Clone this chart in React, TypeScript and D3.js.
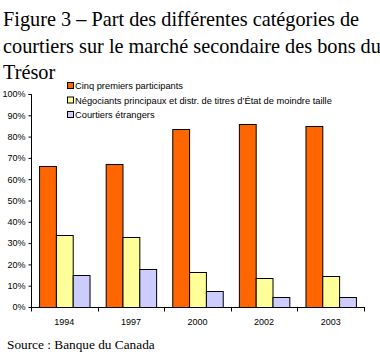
import React, { useEffect, useRef } from 'react'
import * as d3 from 'd3'

const years = ['1994', '1997', '2000', '2002', '2003']
const seriesNames = [
  'Cinq premiers participants',
  'Négociants principaux et distr. de titres d’État de moindre taille',
  'Courtiers étrangers',
]
const cinqPremiers = [66, 67, 83.5, 86, 85]
const negociants = [34, 33, 16.5, 13.5, 14.5]
const etrangers = [15, 18, 7.5, 4.5, 4.5]
const seriesColors = ['#ff6600', '#ffff99', '#ccccff']
const yTicks = [0, 10, 20, 30, 40, 50, 60, 70, 80, 90, 100]
const titleLines = [
  'Figure 3 – Part des différentes catégories de',
  'courtiers sur le marché secondaire des bons du',
  'Trésor',
]

export default function App() {
  const svgRef = useRef<SVGSVGElement>(null)

  useEffect(() => {
    if (!svgRef.current) return
    const svg = d3.select(svgRef.current)
    svg.selectAll('*').remove()

    const serif = '"Liberation Serif", "Times New Roman", serif'
    const sans = '"Liberation Sans", Arial, sans-serif'

    // title
    svg
      .append('g')
      .selectAll('text')
      .data(titleLines)
      .join('text')
      .attr('x', 3)
      .attr('y', (d, i) => 26 + i * 26.5)
      .style('font-family', serif)
      .style('font-size', '20.3px')
      .style('fill', '#000')
      .text((d) => d)

    const left = 31
    const right = 364
    const top = 94
    const bottom = 307

    const x = d3.scaleBand().domain(years).range([left, right]).paddingInner(0).paddingOuter(0)
    const inner = d3
      .scaleBand()
      .domain(['0', '1', '2'])
      .range([0, x.bandwidth()])
      .paddingOuter(0.48)
      .paddingInner(0)
    const y = d3.scaleLinear().domain([0, 100]).range([bottom, top])

    const data = [cinqPremiers, negociants, etrangers]

    const g = svg.append('g')
    years.forEach((yr, i) => {
      data.forEach((vals, s) => {
        g.append('rect')
          .attr('x', (x(yr) || 0) + (inner(String(s)) || 0) + 0.5)
          .attr('y', Math.round(y(vals[i])) + 0.5)
          .attr('width', inner.bandwidth())
          .attr('height', bottom - Math.round(y(vals[i])))
          .attr('fill', seriesColors[s])
          .attr('stroke', '#000')
          .attr('stroke-width', 1)
      })
    })

    // y axis
    const yAxis = svg
      .append('g')
      .attr('transform', `translate(${left + 0.5},0)`)
      .call(d3.axisLeft(y).tickValues(yTicks).tickSize(3).tickPadding(3).tickFormat((d) => `${d}%`))
    yAxis.select('.domain').attr('d', `M-3,${top + 0.5}H0V${bottom + 0.5}`)
    yAxis
      .selectAll('text')
      .style('font-family', sans)
      .style('font-size', '9px')
      .style('fill', '#000')

    // x axis
    const xAxis = svg
      .append('g')
      .attr('transform', `translate(0,${bottom + 0.5})`)
      .call(
        d3
          .axisBottom(x)
          .tickSize(0)
          .tickPadding(11)
      )
    xAxis.select('.domain').attr('d', `M${left},0H${right + 1}`)
    xAxis
      .selectAll('text')
      .style('font-family', sans)
      .style('font-size', '9px')
      .style('fill', '#000')
    const bounds = [...years.map((d) => x(d) || 0), right]
    xAxis
      .selectAll('line.sep')
      .data(bounds)
      .join('line')
      .attr('class', 'sep')
      .attr('x1', (d) => Math.round(d) + 0.5)
      .attr('x2', (d) => Math.round(d) + 0.5)
      .attr('y1', 0)
      .attr('y2', 4)
      .attr('stroke', '#000')

    // legend
    const legend = svg.append('g')
    seriesNames.forEach((name, i) => {
      const ly = 86 + i * 14.5
      legend
        .append('rect')
        .attr('x', 67.5)
        .attr('y', ly - 3.5)
        .attr('width', 6)
        .attr('height', 6)
        .attr('fill', seriesColors[i])
        .attr('stroke', '#000')
      legend
        .append('text')
        .attr('x', 75)
        .attr('y', ly + 3)
        .style('font-family', sans)
        .style('font-size', '9.3px')
        .style('fill', '#000')
        .text(name)
    })

    svg
      .append('text')
      .attr('x', 7)
      .attr('y', 349)
      .style('font-family', serif)
      .style('font-size', '13.3px')
      .style('fill', '#000')
      .text('Source : Banque du Canada')
  }, [])

  return (
    <svg
      ref={svgRef}
      width={380}
      height={354}
      style={{ position: 'absolute', left: 0, top: 0, background: '#fff' }}
    />
  )
}
